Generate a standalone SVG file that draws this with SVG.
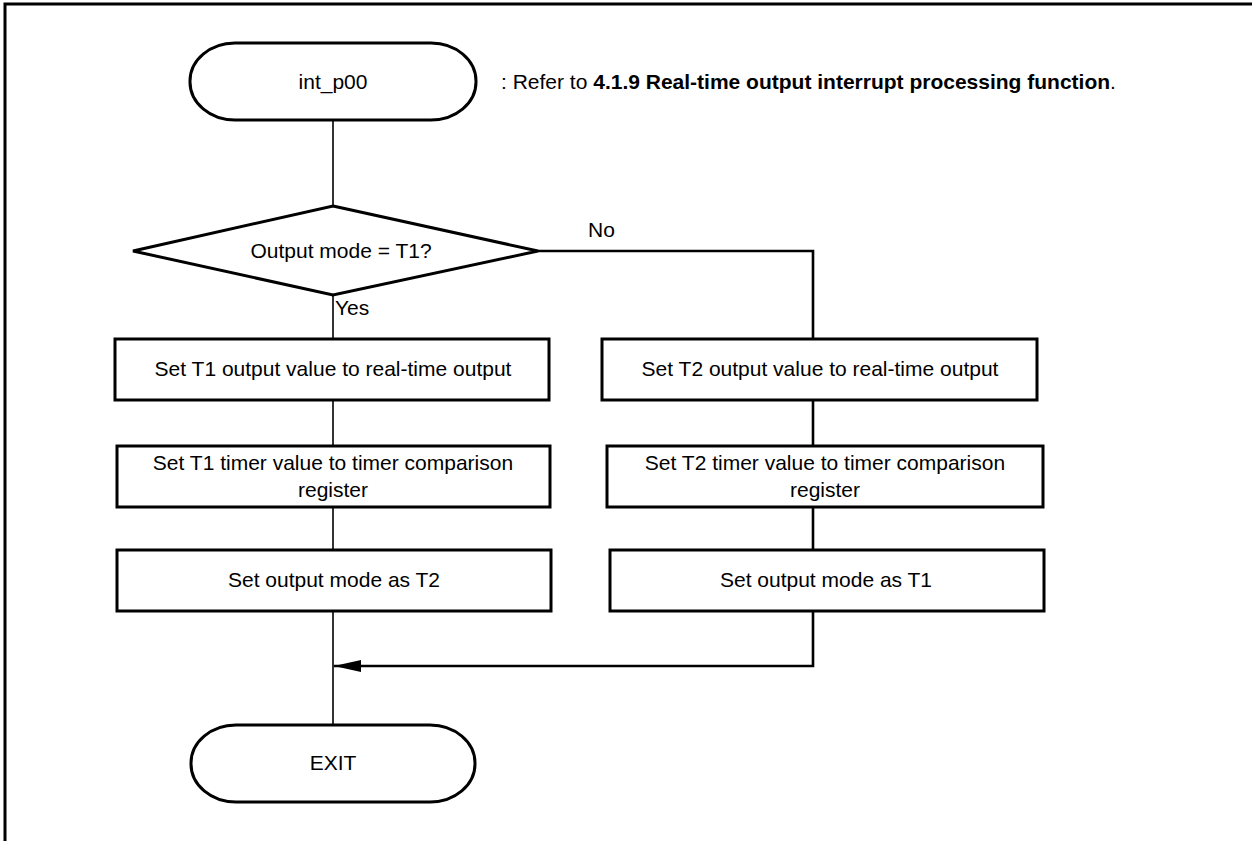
<svg xmlns="http://www.w3.org/2000/svg" width="1252" height="841" viewBox="0 0 1252 841">
  <style>
    .shape { fill: #ffffff; stroke: #000000; stroke-width: 3; }
    .label { font-family: "Liberation Sans", Arial, sans-serif; font-size: 21px; fill: #000000; text-anchor: middle; }
    .note { font-family: "Liberation Sans", Arial, sans-serif; font-size: 21px; fill: #000000; }
    .thin { fill: none; stroke: #000000; stroke-width: 1.6; }
    .thick { fill: none; stroke: #000000; stroke-width: 2.6; }
  </style>
  <defs>
    <marker id="arrow" markerUnits="userSpaceOnUse" markerWidth="28" markerHeight="14" refX="27" refY="6" orient="auto">
      <path d="M0,0 L27,6 L0,12 Z" fill="#000000"/>
    </marker>
  </defs>
  <rect width="1252" height="841" fill="#ffffff"/>

  <!-- page frame (top and left edges only) -->
  <path d="M5,841 V4 H1252" fill="none" stroke="#000000" stroke-width="3"/>

  <!-- connectors -->
  <g id="connectors">
    <path class="thin" d="M333,120 V206"/>
    <path class="thin" d="M333,295 V339"/>
    <path class="thick" d="M538,251 H813 V339"/>
    <path class="thin" d="M333,400 V446"/>
    <path class="thin" d="M333,507 V550"/>
    <path class="thin" d="M333,611 V725"/>
    <path class="thick" d="M813,400 V446"/>
    <path class="thick" d="M813,507 V550"/>
    <path class="thick" d="M813,611 V666 H334" marker-end="url(#arrow)"/>
    <text class="note" x="588" y="237">No</text>
    <text class="note" x="335" y="315">Yes</text>
  </g>

  <g id="start">
    <rect class="shape" x="190" y="43" width="286" height="77" rx="45" ry="38"/>
    <text class="label" x="333" y="89">int_p00</text>
  </g>

  <g id="note">
    <text class="note" x="501" y="89">: Refer to <tspan font-weight="bold">4.1.9 Real-time output interrupt processing function</tspan>.</text>
  </g>

  <g id="decision">
    <polygon class="shape" points="333,206 538,251 333,295 133,251"/>
    <text class="label" x="341" y="258">Output mode = T1?</text>
  </g>

  <g id="t1-output">
    <rect class="shape" x="115" y="339" width="434" height="61"/>
    <text class="label" x="333" y="376">Set T1 output value to real-time output</text>
  </g>
  <g id="t1-timer">
    <rect class="shape" x="117" y="446" width="433" height="61"/>
    <text class="label" x="333" y="470">Set T1 timer value to timer comparison</text>
    <text class="label" x="333" y="497">register</text>
  </g>
  <g id="t1-mode">
    <rect class="shape" x="117" y="550" width="434" height="61"/>
    <text class="label" x="334" y="587">Set output mode as T2</text>
  </g>

  <g id="t2-output">
    <rect class="shape" x="602" y="339" width="435" height="61"/>
    <text class="label" x="820" y="376">Set T2 output value to real-time output</text>
  </g>
  <g id="t2-timer">
    <rect class="shape" x="607" y="446" width="436" height="61"/>
    <text class="label" x="825" y="470">Set T2 timer value to timer comparison</text>
    <text class="label" x="825" y="497">register</text>
  </g>
  <g id="t2-mode">
    <rect class="shape" x="610" y="550" width="434" height="61"/>
    <text class="label" x="826" y="587">Set output mode as T1</text>
  </g>

  <g id="exit">
    <rect class="shape" x="191" y="725" width="284" height="77" rx="45" ry="38"/>
    <text class="label" x="333" y="770">EXIT</text>
  </g>
</svg>
